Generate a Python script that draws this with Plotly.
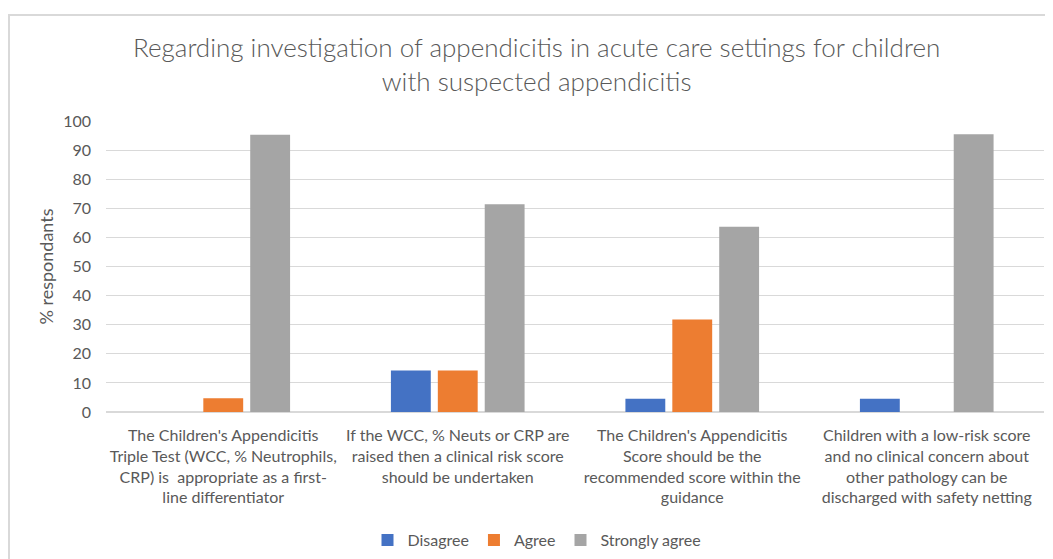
import plotly.graph_objects as go

categories = [
    "The Children's Appendicitis<br>Triple Test (WCC, % Neutrophils,<br>CRP) is  appropriate as a first-<br>line differentiator",
    "If the WCC, % Neuts or CRP are<br>raised then a clinical risk score<br>should be undertaken",
    "The Children's Appendicitis<br>Score should be the<br>recommended score within the<br>guidance",
    "Children with a low-risk score<br>and no clinical concern about<br>other pathology can be<br>discharged with safety netting",
]
disagree = [0, 14.29, 4.55, 4.55]
agree = [4.76, 14.29, 31.82, 0]
strongly_agree = [95.24, 71.43, 63.64, 95.45]
y_ticks = list(range(0, 101, 10))

series = [
    ("Disagree", disagree, "#4472C4"),
    ("Agree", agree, "#ED7D31"),
    ("Strongly agree", strongly_agree, "#A5A5A5"),
]

FONT = "Lato"
GREY = "#595959"
OFF = 8  # page body offset

W, H = 1053, 559
L, R, T, B = 106 - OFF, 17, 121 - OFF, 155
pw = W - L - R
ph = H - T - B


def px_x(sx):
    return (sx - OFF - L) / pw


def px_y(sy):
    return (H - B - (sy - OFF)) / ph


fig = go.Figure()
for name, vals, col in series:
    fig.add_trace(go.Bar(
        x=categories, y=vals, name=name,
        marker=dict(color=col, line=dict(width=0)),
    ))

fig.update_layout(
    width=W, height=H,
    margin=dict(l=L, r=R, t=T, b=B, autoexpand=False),
    paper_bgcolor="white", plot_bgcolor="white",
    barmode="group", bargap=0.4, bargroupgap=0.15,
    font=dict(family=FONT, size=16, color=GREY),
    showlegend=True,
    legend=dict(orientation="h", x=px_x(537), xanchor="center",
                y=px_y(540), yanchor="middle",
                font=dict(size=16, color=GREY), itemwidth=30,
                traceorder="normal"),
    xaxis=dict(showgrid=False, showline=False, ticks="", tickangle=0,
               ticklabelstandoff=12,
               tickfont=dict(size=16, color=GREY)),
    yaxis=dict(range=[0, 100], tickvals=y_ticks, showgrid=True,
               gridcolor="#D9D9D9", gridwidth=1, zeroline=True,
               zerolinecolor="#D9D9D9", zerolinewidth=2, showline=False,
               ticks="", ticklabelstandoff=14,
               tickfont=dict(size=16, color=GREY),
               title=dict(text="% respondants", font=dict(size=18, color=GREY), standoff=4)),
    annotations=[dict(
        text="Regarding investigation of appendicitis in acute care settings for children<br>with suspected appendicitis",
        xref="paper", yref="paper",
        x=px_x(536), y=px_y(64), xanchor="center", yanchor="middle",
        showarrow=False, font=dict(family=FONT, size=26, color=GREY, weight=300),
    )],
    shapes=[dict(type="rect", xref="paper", yref="paper",
                 x0=px_x(9), x1=px_x(1075),
                 y0=px_y(600), y1=px_y(15),
                 line=dict(color="#D9D9D9", width=2), fillcolor="rgba(0,0,0,0)", layer="below")],
)

fig.write_html("out.html")
